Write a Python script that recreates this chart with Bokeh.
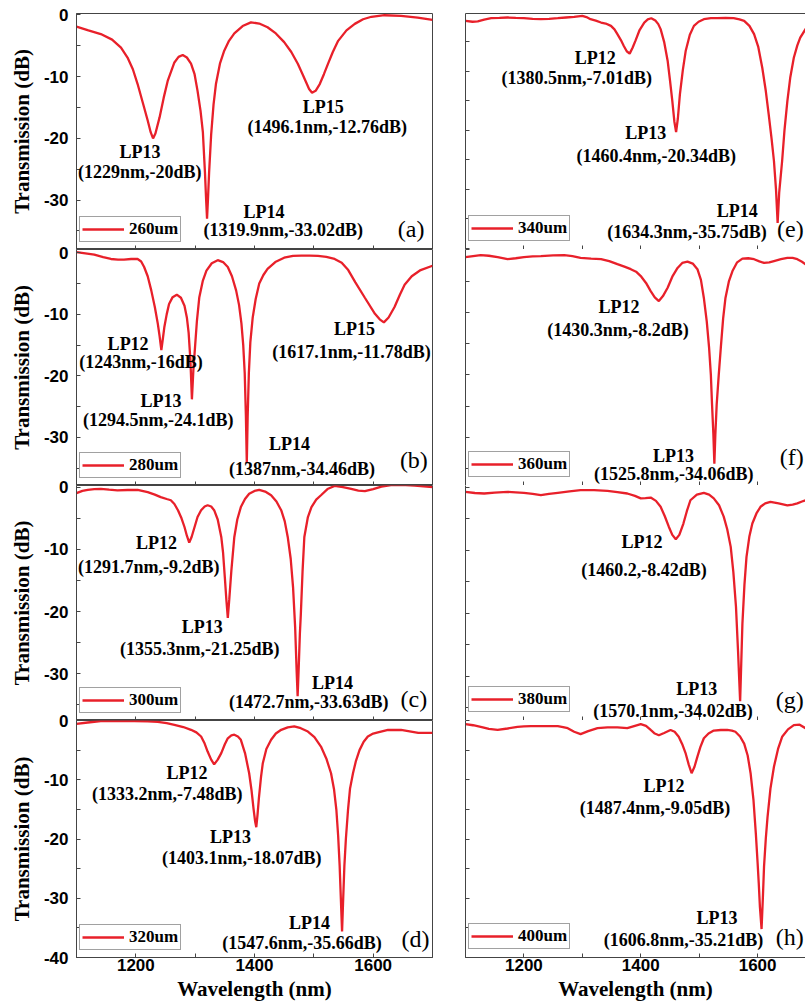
from bokeh.plotting import figure
from bokeh.layouts import column, row
from bokeh.models import Range1d, FixedTicker, Label, Legend, LegendItem, LinearAxis
from bokeh.embed import file_html
from bokeh.resources import INLINE

# ---------------- data ----------------
wl_a = [1100, 1120, 1141, 1160, 1175, 1186, 1195, 1203, 1212, 1220, 1225, 1229, 1233, 1240, 1247, 1254,
        1265, 1272, 1279, 1286, 1293, 1299, 1304, 1309, 1313, 1316.5, 1318.5, 1320, 1321.5, 1323.5, 1327,
        1331, 1335, 1342, 1349, 1357, 1366, 1380, 1394, 1408, 1422, 1436, 1450, 1462, 1473, 1481, 1487,
        1492, 1497, 1503, 1510, 1517, 1524, 1532, 1541, 1555, 1569, 1583, 1597, 1619, 1647, 1675, 1700]
db_a = [-1.9, -2.5, -3.1, -4.0, -5.3, -6.9, -8.8, -11.2, -14.3, -17.1, -19.0, -20.0, -19.2, -16.6, -13.4, -10.6,
        -7.7, -6.8, -6.5, -6.9, -7.9, -9.6, -12.3, -15.5, -19.0, -25.5, -30.0, -33.0, -30.0, -25.5, -19.3,
        -14.5, -11.2, -7.8, -5.8, -4.2, -3.0, -1.8, -1.2, -1.4, -2.0, -3.0, -4.4, -6.0, -7.9, -9.6, -10.9,
        -12.0, -12.6, -12.3, -11.2, -9.6, -7.9, -6.0, -4.2, -2.5, -1.45, -0.7, -0.3, -0.05, -0.15, -0.45, -0.8]

wl_b = [1100, 1115, 1130, 1145, 1158, 1170, 1180, 1192, 1203, 1209, 1214, 1220, 1226, 1232, 1237, 1240,
        1243, 1245.5, 1248, 1252, 1256, 1262, 1269, 1276, 1282, 1286, 1289, 1292, 1294.5, 1297, 1300, 1303,
        1307, 1313, 1319, 1328, 1338, 1347, 1355, 1362, 1369, 1374, 1378, 1381, 1383.5, 1385.5, 1387,
        1388.5, 1390.5, 1393, 1397, 1402, 1408, 1415, 1422, 1435, 1450, 1465, 1479, 1493, 1507, 1521, 1535,
        1547, 1558, 1570, 1586, 1603, 1611, 1618, 1626, 1636, 1645, 1653, 1665, 1680, 1700]
db_b = [0.1, -0.1, -0.3, -0.7, -1.0, -1.1, -1.1, -1.0, -1.0, -1.4, -2.3, -3.8, -6.1, -8.8, -11.5, -13.5,
        -15.8, -14.0, -12.1, -10.0, -8.3, -7.2, -6.8, -7.3, -8.6, -10.5, -13.0, -17.5, -23.8, -19.0, -15.0, -11.0,
        -7.2, -4.5, -2.9, -1.7, -1.2, -1.5, -2.3, -3.8, -6.1, -8.5, -11.5, -15.0, -19.5, -26.5, -34.2,
        -26.5, -19.5, -14.5, -10.5, -7.5, -5.0, -3.6, -2.6, -1.5, -0.8, -0.5, -0.45, -0.45, -0.5, -0.65, -1.0,
        -1.6, -2.8, -4.8, -7.3, -9.9, -10.8, -11.3, -10.5, -8.8, -6.8, -5.2, -3.8, -2.8, -2.1]

wl_c = [1100, 1110, 1119, 1130, 1141, 1155, 1169, 1186, 1203, 1220, 1232, 1242, 1252, 1259, 1265, 1271,
        1277, 1282, 1286, 1290, 1294, 1299, 1304, 1310, 1316, 1321, 1327, 1332, 1338, 1344, 1347, 1350,
        1352.5, 1355, 1357.5, 1361, 1366, 1371, 1377, 1384, 1391, 1400, 1408, 1418, 1428, 1437, 1445, 1451,
        1456, 1461, 1465, 1468.5, 1471, 1472.7, 1474.5, 1476.5, 1478, 1481, 1484, 1490, 1496, 1504, 1512,
        1523, 1535, 1549, 1563, 1575, 1586, 1600, 1614, 1630, 1647, 1670, 1700]
db_c = [-0.96, -0.6, -0.42, -0.3, -0.26, -0.4, -0.5, -0.45, -0.42, -0.8, -1.2, -1.6, -1.9, -2.1, -2.7, -3.7,
        -5.0, -6.4, -7.8, -8.9, -8.0, -6.4, -4.8, -3.7, -3.1, -2.9, -3.1, -3.7, -5.2, -8.0, -10.5, -14.5,
        -18.0, -21.0, -18.0, -13.4, -8.0, -5.2, -3.2, -1.9, -1.06, -0.6, -0.42, -0.7, -1.3, -2.3, -3.7, -5.5,
        -8.0, -11.5, -16.1, -22.5, -29.5, -33.6, -29.0, -23.5, -20.6, -13.5, -8.0, -4.8, -3.2, -2.0, -1.3,
        -0.3, 0.2, 0.0, -0.26, -0.55, -0.64, -0.3, 0.1, 0.35, 0.38, 0.25, 0.0]

wl_d = [1100, 1119, 1141, 1170, 1197, 1220, 1237, 1252, 1265, 1280, 1293, 1302, 1310, 1316, 1321, 1327,
        1332, 1338, 1344, 1350, 1355, 1361, 1366, 1372, 1377, 1384, 1391, 1395, 1398.5, 1401, 1403, 1405,
        1407.5, 1411, 1414, 1420, 1428, 1436, 1445, 1456, 1467, 1478, 1490, 1501, 1512, 1521, 1529, 1534,
        1538, 1541, 1543.5, 1545.5, 1547.6, 1549.5, 1551.5, 1554, 1557.6, 1561, 1566, 1571, 1577, 1584,
        1591, 1600, 1608, 1625, 1647, 1676, 1700]
db_d = [-0.56, -0.34, -0.1, -0.05, -0.1, -0.15, -0.22, -0.45, -0.73, -1.1, -1.57, -2.0, -2.7, -3.9, -5.24, -6.6,
        -7.4, -6.6, -5.5, -4.0, -3.0, -2.5, -2.4, -2.7, -3.26, -5.5, -8.9, -11.8, -15.0, -17.0, -18.0, -16.0,
        -13.0, -9.5, -7.2, -4.8, -3.26, -2.2, -1.57, -1.15, -1.0, -1.3, -1.86, -2.8, -4.4, -6.4, -8.9, -11.6,
        -15.1, -19.5, -24.5, -30.0, -35.6, -30.0, -24.5, -20.0, -15.1, -11.5, -8.9, -6.8, -5.0, -3.6,
        -2.7, -2.2, -2.0, -1.6, -1.6, -2.1, -2.1]

wl_e = [1100, 1112, 1121, 1132, 1144, 1158, 1172, 1186, 1200, 1215, 1229, 1243, 1258, 1272, 1286, 1300,
        1307, 1314, 1323, 1332, 1340, 1349, 1355, 1360, 1366, 1371, 1376, 1381, 1386, 1391, 1398, 1406,
        1412, 1418, 1425, 1430, 1434, 1440, 1446, 1450, 1454, 1457.5, 1460.5, 1463.5, 1467, 1472, 1477,
        1484, 1491, 1499, 1508, 1520, 1531, 1545, 1559, 1569, 1577, 1586, 1594, 1601, 1608, 1614, 1619,
        1624, 1628, 1631.5, 1634.3, 1637, 1642, 1646, 1651, 1656, 1662, 1668, 1673, 1682, 1690, 1700]
db_e = [-1.44, -1.6, -1.55, -1.25, -1.0, -0.95, -0.88, -0.95, -1.0, -1.1, -1.16, -1.1, -1.0, -0.88, -0.76, -0.6,
        -0.8, -1.16, -1.4, -1.73, -1.9, -2.3, -2.9, -3.7, -4.7, -5.7, -6.6, -7.0, -6.0, -4.8, -3.0, -1.73,
        -1.2, -1.0, -1.4, -2.0, -2.85, -5.0, -8.2, -11.5, -15.0, -18.5, -20.3, -18.0, -13.9, -9.8, -6.5,
        -3.8, -2.3, -1.6, -1.16, -1.0, -1.0, -0.95, -1.0, -1.2, -1.44, -2.3, -3.7, -5.8, -9.4, -13.3, -17.3,
        -21.5, -25.2, -30.0, -35.7, -30.5, -25.2, -20.0, -15.0, -11.0, -7.7, -5.6, -4.3, -2.85, -2.0, -1.5]

wl_f = [1100, 1113, 1126, 1140, 1155, 1172, 1186, 1200, 1215, 1229, 1250, 1269, 1283, 1297, 1315, 1332,
        1346, 1360, 1372, 1383, 1392, 1400, 1409, 1417, 1424, 1431, 1438, 1446, 1454, 1463, 1471, 1480,
        1489, 1497, 1503, 1508, 1513, 1517, 1520, 1522, 1524.3, 1526, 1527.7, 1530, 1533.5, 1537, 1541,
        1545, 1551, 1557, 1565, 1574, 1584, 1594, 1603, 1611, 1620, 1628, 1640, 1651, 1660, 1668, 1676,
        1682, 1690]
db_f = [-1.17, -1.0, -0.85, -0.95, -1.17, -1.5, -1.35, -1.17, -1.05, -1.0, -0.9, -0.85, -1.0, -1.28, -1.4, -1.5,
        -1.8, -2.3, -2.7, -3.1, -3.5, -4.2, -5.3, -6.6, -7.6, -8.2, -7.4, -6.07, -4.3, -2.9, -2.1, -1.9,
        -2.2, -3.1, -4.8, -7.7, -11.5, -15.7, -20.0, -24.7, -29.5, -34.2, -29.5, -24.7, -20.0, -15.7, -11.0,
        -7.7, -5.0, -3.4, -2.0, -1.4, -1.35, -1.5, -1.85, -2.1, -2.0, -1.8, -1.5, -1.28, -1.3, -1.5, -1.9,
        -2.3, -2.8]

wl_g = [1100, 1116, 1132, 1150, 1172, 1186, 1200, 1215, 1229, 1243, 1258, 1278, 1297, 1320, 1343, 1360,
        1377, 1390, 1400, 1408, 1417, 1426, 1434, 1441, 1448, 1454, 1460, 1466, 1473, 1479, 1485, 1496,
        1508, 1517, 1525, 1534, 1542, 1548, 1554, 1558.5, 1563, 1566.5, 1570.1, 1572, 1574, 1577.5, 1581,
        1586, 1591, 1598, 1605, 1613, 1622, 1636, 1651, 1660, 1668, 1676, 1682, 1690]
db_g = [-0.77, -0.95, -1.03, -0.9, -0.77, -0.85, -0.93, -1.1, -1.3, -1.1, -0.93, -0.7, -0.5, -0.5, -0.6, -0.8,
        -1.03, -1.4, -1.8, -1.75, -1.67, -2.2, -3.14, -4.6, -6.3, -7.6, -8.3, -7.6, -5.8, -3.8, -2.1, -1.2,
        -0.93, -1.2, -1.8, -2.9, -4.7, -6.7, -9.5, -13.5, -19.0, -26.0, -34.0, -28.0, -21.7, -15.5, -11.1,
        -7.8, -5.8, -4.2, -3.14, -2.6, -2.35, -2.6, -2.9, -2.8, -2.6, -2.3, -2.1, -1.8]

wl_h = [1100, 1113, 1126, 1140, 1155, 1172, 1189, 1200, 1212, 1235, 1258, 1267, 1275, 1286, 1297, 1310,
        1326, 1343, 1360, 1377, 1390, 1400, 1409, 1417, 1424, 1431, 1440, 1451, 1458, 1465, 1471, 1477,
        1482, 1487, 1492, 1497, 1502, 1508, 1516, 1525, 1537, 1548, 1556, 1562, 1570, 1577, 1583, 1588,
        1593, 1597, 1600, 1602, 1604, 1606.8, 1609, 1611, 1614, 1617, 1622, 1628, 1635, 1642, 1652, 1662,
        1672, 1682, 1690]
db_h = [-0.6, -0.8, -1.06, -1.4, -1.6, -1.35, -1.06, -0.98, -0.95, -0.95, -0.95, -1.1, -1.3, -1.9, -2.3, -1.8,
        -1.3, -1.15, -1.15, -1.3, -0.9, -0.6, -0.9, -1.6, -2.2, -2.5, -2.1, -1.6, -1.9, -2.75, -4.0, -5.6,
        -7.4, -8.9, -7.8, -6.1, -4.5, -3.0, -2.2, -1.7, -1.6, -1.6, -1.7, -1.9, -2.7, -3.9, -5.9, -8.9,
        -13.5, -19.1, -24.0, -27.5, -31.5, -35.2, -30.0, -24.7, -20.0, -16.3, -11.5, -7.8, -4.8, -2.75, -1.5,
        -0.78, -0.7, -1.3, -1.6]

series_labels = ["260um", "280um", "300um", "320um", "340um", "360um", "380um", "400um"]
panel_tags = ["(a)", "(b)", "(c)", "(d)", "(e)", "(f)", "(g)", "(h)"]

notes_a = ["LP13", "(1229nm,-20dB)", "LP15", "(1496.1nm,-12.76dB)", "LP14", "(1319.9nm,-33.02dB)"]
notes_b = ["LP12", "(1243nm,-16dB)", "LP13", "(1294.5nm,-24.1dB)", "LP14", "(1387nm,-34.46dB)",
           "LP15", "(1617.1nm,-11.78dB)"]
notes_c = ["LP12", "(1291.7nm,-9.2dB)", "LP13", "(1355.3nm,-21.25dB)", "LP14", "(1472.7nm,-33.63dB)"]
notes_d = ["LP12", "(1333.2nm,-7.48dB)", "LP13", "(1403.1nm,-18.07dB)", "LP14", "(1547.6nm,-35.66dB)"]
notes_e = ["LP12", "(1380.5nm,-7.01dB)", "LP13", "(1460.4nm,-20.34dB)", "LP14", "(1634.3nm,-35.75dB)"]
notes_f = ["LP12", "(1430.3nm,-8.2dB)", "LP13", "(1525.8nm,-34.06dB)"]
notes_g = ["LP12", "(1460.2,-8.42dB)", "LP13", "(1570.1nm,-34.02dB)"]
notes_h = ["LP12", "(1487.4nm,-9.05dB)", "LP13", "(1606.8nm,-35.21dB)"]

y_ticks = [0, -10, -20, -30, -40]
y_tick_labels = ["0", "-10", "-20", "-30", "-40"]
y_minor = [-5, -15, -25, -35]
x_ticks = [1200, 1400, 1600]
x_tick_labels = ["1200", "1400", "1600"]
x_minor = [1100, 1300, 1500, 1700]

# ---------------- layout / style (not data) ----------------
RED = "#E8202A"
AX = "#444444"
SERIF = "Liberation Serif"
SANS = "Liberation Sans"
OVERLAP = 10   # lower rows reach up over the row above so their "0" tick label is not cut

# annotation positions in data units, one per note line
note_pos = {
    0: [(1207, -22.25), (1206.7, -25.5), (1516, -14.85), (1522.6, -18.1), (1416, -32.0), (1448.4, -34.9)],
    1: [(1187, -14.8), (1208.7, -17.8), (1242.4, -24.0), (1237.7, -27.15), (1459, -31.06), (1480, -35.1),
        (1568.7, -12.36), (1563.6, -16.16)],
    2: [(1234.9, -9.0), (1221.9, -12.86), (1312, -22.4), (1307.7, -26.0), (1531.4, -31.5), (1491.4, -34.57)],
    3: [(1286.3, -8.8), (1252.9, -12.45), (1359.4, -19.6), (1378.6, -23.26), (1492.8, -34.15), (1480, -37.5)],
    4: [(1322.2, -7.66), (1290.3, -11.15), (1408.5, -20.5), (1426.5, -24.3), (1565.3, -33.6), (1479.1, -37.3)],
    5: [(1362.9, -9.15), (1361, -12.9), (1455.9, -32.96), (1456.4, -35.9)],
    6: [(1402, -8.7), (1405.6, -13.2), (1495.7, -32.1), (1455, -35.5)],
    7: [(1439.8, -11.1), (1424.3, -14.7), (1530.4, -33.3), (1473, -37.0)],
}
tag_pos = [(1664, -34.6), (1668.6, -33.66), (1668.6, -34.0), (1671.5, -36.8),
           (1679, -36.75), (1679, -33.2), (1679, -33.8), (1679, -36.6)]
y_ranges = [(-38.0, 0.23), (-37.8, 0.54), (-37.5, 0.27), (-40.0, 0.0),
            (-40.2, -0.2), (-37.7, 0.05), (-37.06, 0.24), (-40.0, 0.0)]
frame_heights = [236, 236, 235, 237]

wls = [wl_a, wl_b, wl_c, wl_d, wl_e, wl_f, wl_g, wl_h]
dbs = [db_a, db_b, db_c, db_d, db_e, db_f, db_g, db_h]
notes = [notes_a, notes_b, notes_c, notes_d, notes_e, notes_f, notes_g, notes_h]


def make_axis(major, labels, minor, show_labels):
    if show_labels:
        ax = LinearAxis(ticker=FixedTicker(ticks=major, minor_ticks=minor),
                        major_label_overrides=dict(zip(major, labels)))
        ax.major_label_text_font = SANS
        ax.major_label_text_font_style = "bold"
        ax.major_label_text_font_size = "17px"
        ax.major_label_text_color = "black"
    else:
        # every tick drawn as a minor tick, so no tick labels exist at all
        ax = LinearAxis(ticker=FixedTicker(ticks=[], minor_ticks=sorted(major + minor)))
        ax.major_label_standoff = 0
    ax.axis_line_color = AX
    ax.axis_line_width = 1
    ax.major_tick_line_color = AX
    ax.minor_tick_line_color = AX
    ax.major_tick_in = 4
    ax.major_tick_out = 0
    ax.minor_tick_in = 4
    ax.minor_tick_out = 0
    return ax


def make_panel(i):
    col, rw = divmod(i, 4)
    left = col == 0
    last = rw == 3
    top = 13 if rw == 0 else OVERLAP
    bottom = 51 if last else 0
    p = figure(width=437 if left else 368, height=frame_heights[rw] + top + bottom,
               output_backend="svg", toolbar_location=None,
               x_range=Range1d(1100, 1700 if left else 1682),
               y_range=Range1d(*y_ranges[i]),
               x_axis_location=None, y_axis_location=None,
               min_border_left=76 if left else 28, min_border_right=5 if left else 0,
               min_border_top=top, min_border_bottom=bottom,
               background_fill_color="white", border_fill_color="white",
               border_fill_alpha=1.0 if rw == 0 else 0.0)
    p.outline_line_color = AX if left else None
    p.outline_line_width = 1
    p.grid.visible = False

    xa = make_axis(x_ticks, x_tick_labels, x_minor, last)
    if last:
        xa.major_label_standoff = 1
        xa.axis_label = "Wavelength (nm)"
        xa.axis_label_text_font = SERIF
        xa.axis_label_text_font_style = "bold"
        xa.axis_label_text_font_size = "21px"
        xa.axis_label_text_color = "black"
        xa.axis_label_standoff = 3
    p.add_layout(xa, "below")

    ya = make_axis(y_ticks, y_tick_labels, y_minor, left)
    if left:
        ya.major_label_standoff = 8
        ya.axis_label = "Transmission (dB)"
        ya.axis_label_text_font = SERIF
        ya.axis_label_text_font_style = "bold"
        ya.axis_label_text_font_size = "21px"
        ya.axis_label_text_color = "black"
        ya.axis_label_standoff = 7
    p.add_layout(ya, "left")

    if (not left) and rw == 0:
        ta = LinearAxis(ticker=FixedTicker(ticks=[], minor_ticks=[]))
        ta.axis_line_color = AX
        ta.major_tick_line_color = None
        ta.minor_tick_line_color = None
        ta.major_label_standoff = 0
        p.add_layout(ta, "above")

    r = p.line(wls[i], dbs[i], line_color=RED, line_width=2.3)

    leg = Legend(items=[LegendItem(label=series_labels[i], renderers=[r])],
                 location=(3, 7 if left else 8), margin=0, padding=2, spacing=0,
                 glyph_width=42, glyph_height=14, label_standoff=5, label_height=14,
                 border_line_color=AX, border_line_width=1,
                 background_fill_color="white", background_fill_alpha=1.0,
                 label_text_font=SERIF, label_text_font_style="bold",
                 label_text_font_size="17px", label_text_color="black")
    p.add_layout(leg)

    for txt, (x, y) in zip(notes[i], note_pos[i]):
        p.add_layout(Label(x=x, y=y, text=txt, text_font=SERIF, text_font_style="bold",
                           text_font_size="18px", text_align="center", text_baseline="middle",
                           text_color="black"))
    tx, ty = tag_pos[i]
    p.add_layout(Label(x=tx, y=ty, text=panel_tags[i], text_font=SERIF,
                       text_font_size="24px", text_align="center" if left else "right",
                       text_baseline="middle", text_color="black"))
    return p


panels = [make_panel(i) for i in range(8)]
rows = []
for rw in range(4):
    kw = {} if rw == 0 else {"margin": (-OVERLAP, 0, 0, 0)}
    rows.append(row(panels[rw], panels[4 + rw], **kw))
layout = column(*rows)

open("out.html", "w").write(file_html(layout, INLINE))
